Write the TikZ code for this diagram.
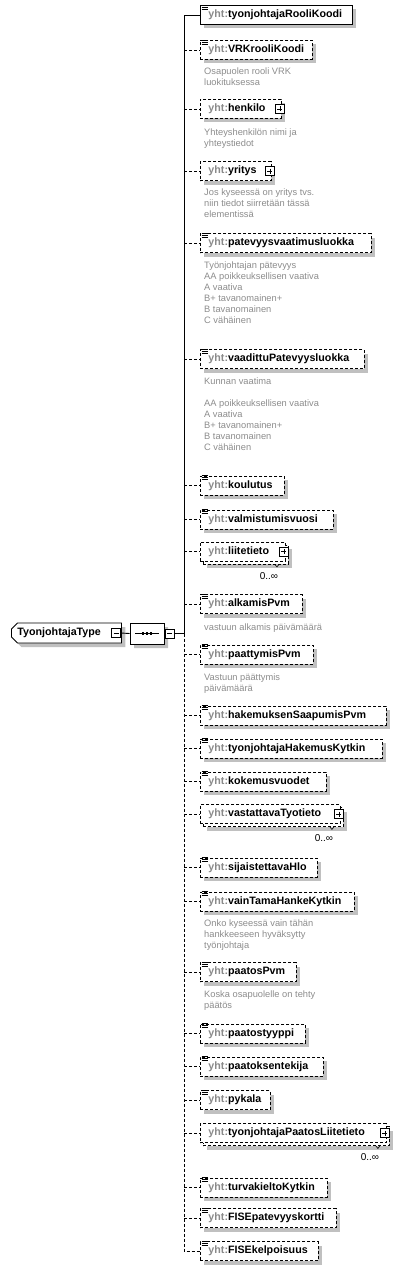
\documentclass[tikz,border=0pt]{standalone}
\usepackage{fontspec}
\setmainfont{Liberation Sans}
\usepackage{xcolor}
\usetikzlibrary{positioning,shapes.misc,shadows}
\definecolor{pfxgray}{HTML}{8A8A8A}
\definecolor{docgray}{HTML}{8C8C8C}
\definecolor{shadegray}{HTML}{C0C0C0}
\newcommand{\yht}{\textcolor{pfxgray}{yht:}}

\begin{document}
\begin{tikzpicture}[x=1pt,y=-1pt,
  every node/.style={font=\fontsize{9.3}{11}\selectfont},
  elem/.style={draw,fill=white,line width=.9pt,anchor=west,minimum height=19pt,inner xsep=8pt,inner ysep=0pt,
    text width=#1,align=left,font=\fontsize{10.7}{13}\selectfont\bfseries},
  opt/.style={dash pattern=on 3pt off 2pt},
  shadowed/.style={drop shadow={shadow xshift=4pt,shadow yshift=-4pt,fill=shadegray,opacity=1}},
  simple/.style={append after command={
    ([xshift=1.5pt]\tikzlastnode.north west) edge[solid,line width=.8pt] ++(6,0)
    ([xshift=1.5pt,yshift=-2pt]\tikzlastnode.north west) edge[solid,line width=.8pt] ++(6,0)
    ([xshift=1.5pt,yshift=-4pt]\tikzlastnode.north west) edge[solid,line width=.8pt] ++(6,0)}},
  doc/.style={anchor=north west,inner sep=0pt,align=left,text=docgray},
  pm/.style={draw,solid,fill=white,line width=.7pt,minimum size=9pt,inner sep=0pt},
  plus/.style={pm,path picture={
    \draw[line width=.7pt] ([xshift=2pt]path picture bounding box.west) -- ([xshift=-2pt]path picture bounding box.east)
      ([yshift=-2pt]path picture bounding box.north) -- ([yshift=2pt]path picture bounding box.south);}},
  minus/.style={pm,path picture={
    \draw[line width=.7pt] ([xshift=2pt]path picture bounding box.west) -- ([xshift=-2pt]path picture bounding box.east);}},
  occ/.style={font=\fontsize{10}{12}\selectfont},
  typebox/.style={chamfered rectangle,chamfered rectangle corners={north west,south west},
    chamfered rectangle xsep=3pt,chamfered rectangle ysep=3pt,draw,fill=white,line width=.9pt,anchor=west,
    minimum height=20pt,inner xsep=3pt,inner ysep=0pt,text width=98pt,align=left,
    font=\fontsize{10.7}{13}\selectfont\bfseries},
  seqbox/.style={chamfered rectangle,chamfered rectangle xsep=5pt,chamfered rectangle ysep=6pt,
    draw,fill=white,line width=.9pt,minimum width=34pt,minimum height=21pt,inner sep=0pt},
  conn/.style={line width=.9pt}
]
  \useasboundingbox (0,0) rectangle (403,1271);

  \node[typebox,shadowed] (type) at (11,633) {TyonjohtajaType};
  \node[minus] (typeminus) at (116,633) {};
  \node[seqbox,shadowed] (seq) at (147,633.5) {};
  \node[minus] (seqminus) at (169.5,633.5) {};
  \draw[conn] ([xshift=-12pt]seq.center) -- ([xshift=12pt]seq.center);
  \fill ([xshift=-4pt]seq.center) +(-1.4,-1.4) rectangle +(1.4,1.4);
  \fill (seq.center) +(-1.4,-1.4) rectangle +(1.4,1.4);
  \fill ([xshift=4pt]seq.center) +(-1.4,-1.4) rectangle +(1.4,1.4);
  \coordinate (spine) at (184,633.5);

  \node[elem=136pt,shadowed,simple] (rooli) at (200,15) {\yht tyonjohtajaRooliKoodi};
  \node[elem=96pt,opt,shadowed,simple] (vrk) at (200,50) {\yht VRKrooliKoodi};
  \node[doc] (vrkdoc) at (204,67.5) {Osapuolen rooli VRK\\luokituksessa};
  \node[elem=65pt,opt,shadowed] (henkilo) at (200,109) {\yht henkilo};
  \node[plus] (henkiloplus) at ([xshift=-2pt]henkilo.east) {};
  \node[doc] (henkilodoc) at (204,128.5) {Yhteyshenkilön nimi ja\\yhteystiedot};
  \node[elem=55pt,opt,shadowed] (yritys) at (200,171) {\yht yritys};
  \node[plus] (yritysplus) at ([xshift=-2pt]yritys.east) {};
  \node[doc] (yritysdoc) at (204,188.5) {Jos kyseessä on yritys tvs.\\niin tiedot siirretään tässä\\elementissä};
  \node[elem=155pt,opt,shadowed,simple] (patevyys) at (200,243) {\yht patevyysvaatimusluokka};
  \node[doc] (patevyysdoc) at (204,261.5) {Työnjohtajan pätevyys\\AA poikkeuksellisen vaativa\\A vaativa\\B+ tavanomainen+\\B tavanomainen\\C vähäinen};
  \node[elem=148pt,opt,shadowed,simple] (vaadittu) at (200,359) {\yht vaadittuPatevyysluokka};
  \node[doc] (vaadittudoc) at (204,377.5) {Kunnan vaatima\\[11pt]AA poikkeuksellisen vaativa\\A vaativa\\B+ tavanomainen+\\B tavanomainen\\C vähäinen};
  \node[elem=68pt,opt,shadowed,simple] (koulutus) at (200,485.5) {\yht koulutus};
  \node[elem=117pt,opt,shadowed,simple] (valmistumis) at (200,519.5) {\yht valmistumisvuosi};
  \node[elem=69pt,opt,shadowed] (liiteback) at (203,554.5) {};
  \node[elem=69pt,opt] (liite) at (200,551.5) {\yht liitetieto};
  \node[plus] (liiteplus) at ([xshift=-2pt]liite.east) {};
  \draw[line width=.6pt] ([xshift=-14pt]liiteback.south east) -- ++(2,2.5) -- ++(2,-2.5);
  \node[occ] (liiteocc) at ([xshift=-20pt,yshift=-11.5pt]liiteback.south east) {0..∞};
  \node[elem=86pt,opt,shadowed,simple] (alkamis) at (200,604) {\yht alkamisPvm};
  \node[doc] (alkamisdoc) at (204,623.5) {vastuun alkamis päivämäärä};
  \node[elem=97pt,opt,shadowed,simple] (paattymis) at (200,654.5) {\yht paattymisPvm};
  \node[doc] (paattymisdoc) at (204,673.5) {Vastuun päättymis\\päivämäärä};
  \node[elem=170pt,opt,shadowed,simple] (saapumis) at (200,715.5) {\yht hakemuksenSaapumisPvm};
  \node[elem=166pt,opt,shadowed,simple] (hakemus) at (200,748.5) {\yht tyonjohtajaHakemusKytkin};
  \node[elem=110pt,opt,shadowed,simple] (kokemus) at (200,781.5) {\yht kokemusvuodet};
  \node[elem=124pt,opt,shadowed] (vastattavaback) at (203,817) {};
  \node[elem=124pt,opt] (vastattava) at (200,814) {\yht vastattavaTyotieto};
  \node[plus] (vastattavaplus) at ([xshift=-2pt]vastattava.east) {};
  \draw[line width=.6pt] ([xshift=-14pt]vastattavaback.south east) -- ++(2,2.5) -- ++(2,-2.5);
  \node[occ] (vastattavaocc) at ([xshift=-20pt,yshift=-11.5pt]vastattavaback.south east) {0..∞};
  \node[elem=101pt,opt,shadowed,simple] (sijaistettava) at (200,867.5) {\yht sijaistettavaHlo};
  \node[elem=138pt,opt,shadowed,simple] (vaintama) at (200,901.5) {\yht vainTamaHankeKytkin};
  \node[doc] (vaintamadoc) at (204,919.5) {Onko kyseessä vain tähän\\hankkeeseen hyväksytty\\työnjohtaja};
  \node[elem=80pt,opt,shadowed,simple] (paatospvm) at (200,972) {\yht paatosPvm};
  \node[doc] (paatospvmdoc) at (204,990.5) {Koska osapuolelle on tehty\\päätös};
  \node[elem=89pt,opt,shadowed,simple] (paatostyyppi) at (200,1033.5) {\yht paatostyyppi};
  \node[elem=107pt,opt,shadowed,simple] (tekija) at (200,1066.5) {\yht paatoksentekija};
  \node[elem=54pt,opt,shadowed,simple] (pykala) at (200,1100) {\yht pykala};
  \node[elem=170pt,opt,shadowed] (paatosliiteback) at (203,1136) {};
  \node[elem=170pt,opt] (paatosliite) at (200,1133) {\yht tyonjohtajaPaatosLiitetieto};
  \node[plus] (paatosliiteplus) at ([xshift=-2pt]paatosliite.east) {};
  \draw[line width=.6pt] ([xshift=-14pt]paatosliiteback.south east) -- ++(2,2.5) -- ++(2,-2.5);
  \node[occ] (paatosliiteocc) at ([xshift=-20pt,yshift=-11.5pt]paatosliiteback.south east) {0..∞};
  \node[elem=111pt,opt,shadowed,simple] (turvakielto) at (200,1187.5) {\yht turvakieltoKytkin};
  \node[elem=120pt,opt,shadowed,simple] (fisekortti) at (200,1218) {\yht FISEpatevyyskortti};
  \node[elem=102pt,opt,shadowed,simple] (fisekelp) at (200,1251) {\yht FISEkelpoisuus};

  \draw[conn] (typeminus.east) -- (seq.west);
  \draw[conn] (seqminus.east) -- (spine);
  \draw[conn] (spine) |- (rooli.west);
  \draw[conn,opt] (spine) |- (fisekelp.west);
  \draw[conn,opt] (spine |- vrk.west) -- (vrk.west);
  \draw[conn,opt] (spine |- henkilo.west) -- (henkilo.west);
  \draw[conn,opt] (spine |- yritys.west) -- (yritys.west);
  \draw[conn,opt] (spine |- patevyys.west) -- (patevyys.west);
  \draw[conn,opt] (spine |- vaadittu.west) -- (vaadittu.west);
  \draw[conn,opt] (spine |- koulutus.west) -- (koulutus.west);
  \draw[conn,opt] (spine |- valmistumis.west) -- (valmistumis.west);
  \draw[conn,opt] (spine |- liite.west) -- (liite.west);
  \draw[conn,opt] (spine |- alkamis.west) -- (alkamis.west);
  \draw[conn,opt] (spine |- paattymis.west) -- (paattymis.west);
  \draw[conn,opt] (spine |- saapumis.west) -- (saapumis.west);
  \draw[conn,opt] (spine |- hakemus.west) -- (hakemus.west);
  \draw[conn,opt] (spine |- kokemus.west) -- (kokemus.west);
  \draw[conn,opt] (spine |- vastattava.west) -- (vastattava.west);
  \draw[conn,opt] (spine |- sijaistettava.west) -- (sijaistettava.west);
  \draw[conn,opt] (spine |- vaintama.west) -- (vaintama.west);
  \draw[conn,opt] (spine |- paatospvm.west) -- (paatospvm.west);
  \draw[conn,opt] (spine |- paatostyyppi.west) -- (paatostyyppi.west);
  \draw[conn,opt] (spine |- tekija.west) -- (tekija.west);
  \draw[conn,opt] (spine |- pykala.west) -- (pykala.west);
  \draw[conn,opt] (spine |- paatosliite.west) -- (paatosliite.west);
  \draw[conn,opt] (spine |- turvakielto.west) -- (turvakielto.west);
  \draw[conn,opt] (spine |- fisekortti.west) -- (fisekortti.west);
\end{tikzpicture}
\end{document}
